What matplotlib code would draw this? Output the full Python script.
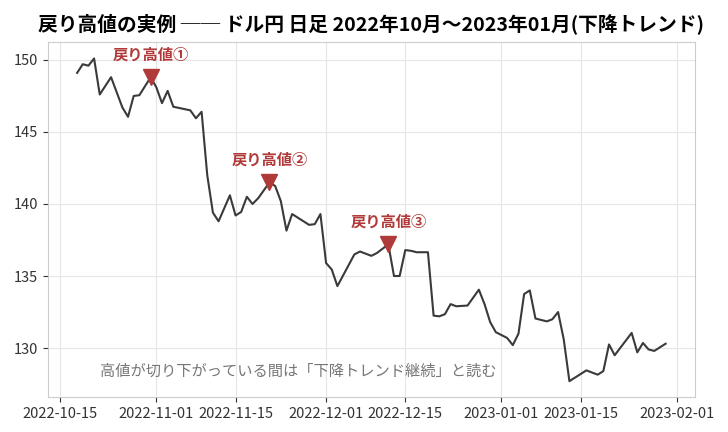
import matplotlib
matplotlib.use("Agg")
import matplotlib.pyplot as plt
import matplotlib.dates as mdates
import pandas as pd

plt.rcParams['font.family'] = ['Noto Sans CJK JP', 'DejaVu Sans']

# USD/JPY daily close
dates = [
    "2022-10-18", "2022-10-19", "2022-10-20", "2022-10-21", "2022-10-22",
    "2022-10-24", "2022-10-26", "2022-10-27", "2022-10-28", "2022-10-29",
    "2022-10-31", "2022-11-01", "2022-11-02", "2022-11-03", "2022-11-04",
    "2022-11-07", "2022-11-08", "2022-11-09", "2022-11-10", "2022-11-11",
    "2022-11-12", "2022-11-14", "2022-11-15", "2022-11-16", "2022-11-17",
    "2022-11-18", "2022-11-19", "2022-11-21", "2022-11-22", "2022-11-23",
    "2022-11-24", "2022-11-25", "2022-11-28", "2022-11-29", "2022-11-30",
    "2022-12-01", "2022-12-02", "2022-12-03", "2022-12-06", "2022-12-07",
    "2022-12-09", "2022-12-10", "2022-12-12", "2022-12-13", "2022-12-14",
    "2022-12-15", "2022-12-16", "2022-12-17", "2022-12-19", "2022-12-20",
    "2022-12-21", "2022-12-22", "2022-12-23", "2022-12-24", "2022-12-26",
    "2022-12-28", "2022-12-29", "2022-12-30", "2022-12-31", "2023-01-02",
    "2023-01-03", "2023-01-04", "2023-01-05", "2023-01-06", "2023-01-07",
    "2023-01-09", "2023-01-10", "2023-01-11", "2023-01-12", "2023-01-13",
    "2023-01-14", "2023-01-16", "2023-01-18", "2023-01-19", "2023-01-20",
    "2023-01-21", "2023-01-24", "2023-01-25", "2023-01-26", "2023-01-27",
    "2023-01-28", "2023-01-30",
]
closes = [
    149.1, 149.7, 149.6, 150.1, 147.6,
    148.8, 146.7, 146.05, 147.5, 147.55,
    148.8, 148.1, 147.0, 147.85, 146.75,
    146.5, 145.95, 146.4, 142.0, 139.4,
    138.8, 140.6, 139.2, 139.45, 140.5,
    140.0, 140.4, 141.5, 141.25, 140.2,
    138.15, 139.3, 138.55, 138.6, 139.3,
    135.9, 135.45, 134.3, 136.5, 136.7,
    136.4, 136.6, 137.2, 135.0, 135.0,
    136.8, 136.75, 136.65, 136.65, 132.25,
    132.2, 132.35, 133.05, 132.9, 132.95,
    134.05, 133.05, 131.8, 131.1, 130.7,
    130.2, 131.0, 133.75, 134.0, 132.05,
    131.85, 132.0, 132.5, 130.6, 127.7,
    127.95, 128.45, 128.15, 128.4, 130.25,
    129.5, 131.05, 129.7, 130.35, 129.9,
    129.8, 130.3,
]

# pullback highs (戻り高値)
peak_dates = ["2022-10-31", "2022-11-21", "2022-12-12"]
peak_values = [148.8, 141.5, 137.2]
peak_labels = ["戻り高値①", "戻り高値②", "戻り高値③"]

title = "戻り高値の実例 ── ドル円 日足 2022年10月～2023年01月(下降トレンド)"
note = "高値が切り下がっている間は「下降トレンド継続」と読む"

red = "#b03a3a"

fig = plt.figure(figsize=(7.28, 4.32), dpi=100)
ax = fig.add_axes([0.0655, 0.0803, 0.8892, 0.8217])

x = pd.to_datetime(dates)
ax.plot(x, closes, color="#3a3a3a", lw=1.5, zorder=2)

px = pd.to_datetime(peak_dates)
ax.plot(px, peak_values, linestyle="none", marker="v", ms=12,
        color=red, zorder=3)
for d, v, lab in zip(px, peak_values, peak_labels):
    ax.annotate(lab, (d, v), xytext=(0, 16.5), textcoords="offset points",
                ha="center", va="center", fontsize=11, fontweight="bold",
                color=red)

ax.text(0.081, 0.074, note, transform=ax.transAxes, ha="left", va="center",
        fontsize=11, color="#777777")

ax.xaxis.set_major_locator(mdates.DayLocator(bymonthday=[1, 15]))
ax.xaxis.set_major_formatter(mdates.DateFormatter("%Y-%m-%d"))

ax.grid(True, color="#e6e6e6", lw=0.8)
ax.set_axisbelow(True)
for s in ax.spines.values():
    s.set_color("#cccccc")
ax.tick_params(labelsize=10.5, colors="#333333")

ax.set_title(title, fontsize=14.2, fontweight="bold", pad=9)

fig.savefig("out.png", dpi=100)
